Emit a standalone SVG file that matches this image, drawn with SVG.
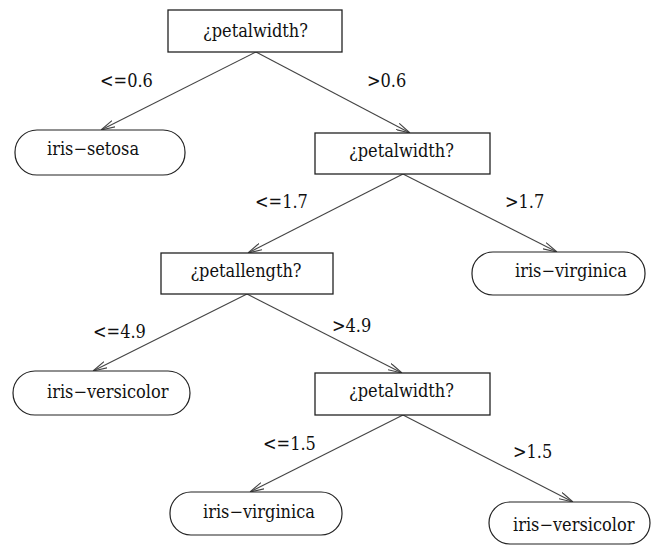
<svg xmlns="http://www.w3.org/2000/svg" width="651" height="545" viewBox="0 0 651 545">
<style>
text{font-family:'DejaVu Serif Condensed','DejaVu Serif',serif;font-stretch:condensed;font-size:18px;fill:#111}
.box{fill:#fff;stroke:#222;stroke-width:1.3}
.leaf{fill:#fff;stroke:#222;stroke-width:1.2}
.edge{fill:none;stroke:#444;stroke-width:1.1;marker-end:url(#arr)}
.m{text-anchor:middle}
</style>
<defs>
<marker id="arr" viewBox="0 0 14 8" refX="14" refY="4" markerWidth="14" markerHeight="8" markerUnits="userSpaceOnUse" orient="auto">
<path d="M0,0.5 L14,4 L0,7.5" fill="none" stroke="#444" stroke-width="1.1"/>
</marker>
</defs>
<rect width="651" height="545" fill="#fff"/>
<g id="connectors">
<line class="edge" x1="256" y1="52" x2="101" y2="130"/>
<line class="edge" x1="256" y1="52" x2="410" y2="133"/>
<line class="edge" x1="403" y1="174" x2="248" y2="253"/>
<line class="edge" x1="403" y1="174" x2="557" y2="252"/>
<line class="edge" x1="247" y1="294" x2="93" y2="371"/>
<line class="edge" x1="247" y1="294" x2="402" y2="373"/>
<line class="edge" x1="403" y1="415" x2="250" y2="492"/>
<line class="edge" x1="403" y1="415" x2="573" y2="502"/>
<text x="100" y="87">&lt;=0.6</text>
<text x="367" y="87">&gt;0.6</text>
<text x="255" y="208">&lt;=1.7</text>
<text x="505" y="208">&gt;1.7</text>
<text x="93" y="338">&lt;=4.9</text>
<text x="332" y="332">&gt;4.9</text>
<text x="263" y="450">&lt;=1.5</text>
<text x="513" y="458">&gt;1.5</text>
</g>
<g id="n1"><rect class="box" x="168" y="10" width="174" height="42"/><text class="m" x="255.5" y="37">¿petalwidth?</text></g>
<g id="n2"><rect class="leaf" x="15" y="130" width="170" height="45" rx="22" ry="22"/><text x="47" y="155">iris−setosa</text></g>
<g id="n3"><rect class="box" x="315" y="133" width="175" height="41"/><text class="m" x="401.5" y="157">¿petalwidth?</text></g>
<g id="n4"><rect class="box" x="161" y="253" width="172" height="41"/><text class="m" x="246" y="277">¿petallength?</text></g>
<g id="n5"><rect class="leaf" x="472" y="252" width="173" height="43" rx="21" ry="21"/><text x="515" y="277">iris−virginica</text></g>
<g id="n6"><rect class="leaf" x="13" y="371" width="177" height="44" rx="22" ry="22"/><text x="47" y="398">iris−versicolor</text></g>
<g id="n7"><rect class="box" x="315" y="373" width="175" height="42"/><text class="m" x="401.5" y="397">¿petalwidth?</text></g>
<g id="n8"><rect class="leaf" x="170" y="492" width="172" height="43" rx="21" ry="21"/><text x="203" y="518">iris−virginica</text></g>
<g id="n9"><rect class="leaf" x="489" y="502" width="161" height="42" rx="21" ry="21"/><text x="513" y="531">iris−versicolor</text></g>
</svg>
